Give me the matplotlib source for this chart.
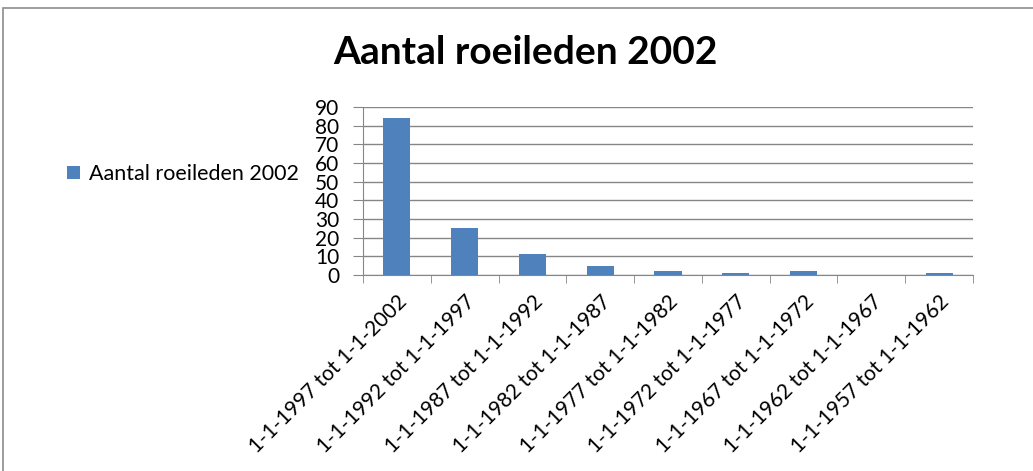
import numpy as np
import matplotlib.pyplot as plt
from matplotlib.patches import Rectangle

categories = [
    "1-1-1997 tot 1-1-2002",
    "1-1-1992 tot 1-1-1997",
    "1-1-1987 tot 1-1-1992",
    "1-1-1982 tot 1-1-1987",
    "1-1-1977 tot 1-1-1982",
    "1-1-1972 tot 1-1-1977",
    "1-1-1967 tot 1-1-1972",
    "1-1-1962 tot 1-1-1967",
    "1-1-1957 tot 1-1-1962",
]
values = [84, 25, 11, 5, 2, 1, 2, 0, 1]
series_name = "Aantal roeileden 2002"
y_ticks = list(range(0, 91, 10))

plt.rcParams["font.family"] = ["Lato", "DejaVu Sans"]

fig = plt.figure(figsize=(10.33, 4.71), dpi=100)
fig.patch.set_facecolor("white")
fig.patches.append(Rectangle((3 / 1033, -0.1), 1.2, 1 - 8 / 471 + 0.1,
                             transform=fig.transFigure, fill=False,
                             edgecolor="#8c8c8c", linewidth=1.2))

ax = fig.add_axes([363 / 1033, 1 - 275 / 471, 610 / 1033, 168 / 471])
x = np.arange(len(categories))
bars = ax.bar(x, values, width=0.4, color="#4f81bd", label=series_name, zorder=3)

ax.set_xlim(-0.5, len(categories) - 0.5)
ax.set_ylim(0, 90)
ax.set_yticks(y_ticks)
ax.set_yticklabels([str(t) for t in y_ticks], fontsize=15)
ax.yaxis.grid(True, color="#868686", linewidth=1, zorder=0)

ax.set_xticks(x)
ax.set_xticklabels(categories, rotation=45, ha="right", va="top",
                   rotation_mode="anchor", fontsize=15)
ax.tick_params(axis="x", length=0, pad=12)
ax.set_xticks(np.arange(len(categories) + 1) - 0.5, minor=True)
ax.tick_params(axis="x", which="minor", length=6, color="#868686")
ax.tick_params(axis="y", length=7, color="#868686", pad=10)

for side in ["top", "right"]:
    ax.spines[side].set_visible(False)
for side in ["left", "bottom"]:
    ax.spines[side].set_color("#868686")

fig.text(525 / 1033, 1 - 52 / 471, series_name, fontsize=28,
         fontweight="bold", ha="center", va="center")

fig.legend(handles=[bars], labels=[series_name], loc="center left",
           bbox_to_anchor=(48 / 1033, 1 - 174 / 471), frameon=False,
           fontsize=15.5, handlelength=0.6, handleheight=0.6, handletextpad=0.4)

fig.savefig("out.png", dpi=100)
